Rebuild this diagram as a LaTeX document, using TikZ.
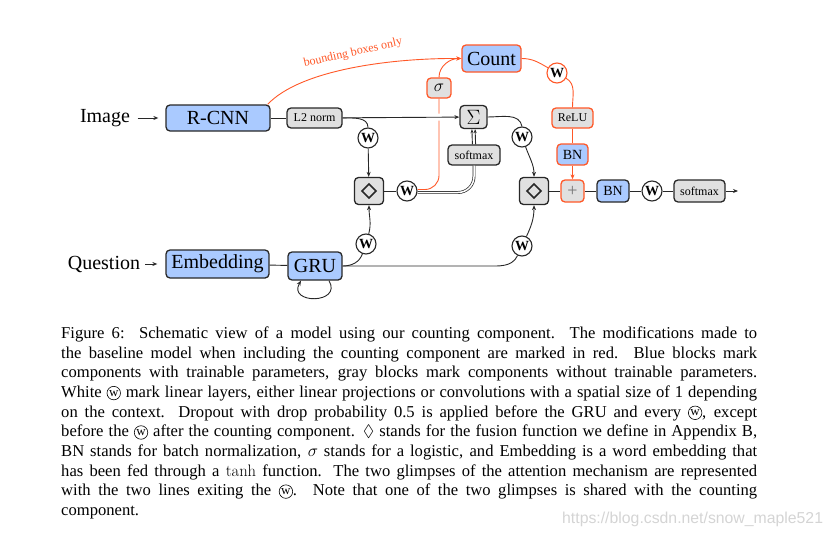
\documentclass[tikz,border=0pt]{standalone}
\usepackage{amsmath,amssymb}
\usepackage{fontspec}
\setmainfont{Liberation Serif}
\newfontfamily\libsans{Liberation Sans}
\newfontfamily\lmroman{Latin Modern Roman}
\usetikzlibrary{arrows.meta}
\definecolor{blueC}{RGB}{170,202,255}
\definecolor{grayC}{RGB}{224,224,224}
\definecolor{redC}{RGB}{255,88,40}
\definecolor{edgeC}{RGB}{40,40,40}
\newcommand{\fsz}[1]{\fontsize{#1}{#1}\selectfont}
\newcommand{\cw}{\tikz[baseline=-4.4pt]{\node[anchor=center, circle, draw=black, line width=0.6pt, inner sep=0pt, minimum size=13.5pt, font=\fontsize{13}{13}\selectfont] at (0,0) {w};}}
\begin{document}
\begin{tikzpicture}[x=1pt,y=1pt,
  box/.style={draw=edgeC, line width=1.3pt, rounded corners=4pt, inner sep=0pt, fill=grayC, text=black},
  bluebox/.style={box, fill=blueC},
  diabox/.style={box, minimum width=29pt, minimum height=27pt,
    path picture={\draw[edgeC, line width=1.5pt, line join=miter, sharp corners]
      (path picture bounding box.center) ++(0,7) -- ++(-7,-7) -- ++(7,-7) -- ++(7,7) -- cycle;}},
  wcirc/.style={circle, draw=edgeC, line width=1.1pt, fill=white, minimum size=20pt, inner sep=0pt, font=\fsz{14}\bfseries},
  conn/.style={draw=edgeC, line width=0.9pt},
  arr/.style={conn, -{Stealth[length=5pt,width=4pt]}},
  redline/.style={draw=redC, line width=0.9pt},
  redarr/.style={redline, -{Stealth[length=5pt,width=4pt]}},
  big/.style={font=\fsz{20}},
  small/.style={font=\fsz{12}},
]
\useasboundingbox (0,0) rectangle (830,-538);

% nodes
\node[big] (img) at (105,-118) {Image};
\node[bluebox, big, minimum width=104pt, minimum height=26pt] (rcnn) at (218,-118) {R-CNN};
\node[box, small, minimum width=55pt, minimum height=20pt] (l2) at (314.5,-118) {L2 norm};
\node[box, font=\fsz{20}, minimum width=27pt, minimum height=23pt] (sum) at (473.5,-117) {$\Sigma$};
\node[box, small, minimum width=52pt, minimum height=20pt] (smA) at (474,-155) {softmax};
\node[box, draw=redC, font=\fsz{17}, minimum width=24pt, minimum height=20pt] (sig) at (439,-88) {$\sigma$};
\node[bluebox, draw=redC, big, minimum width=59pt, minimum height=27pt] (count) at (491.5,-58.5) {Count};
\node[wcirc] (w1) at (368,-138) {W};
\node[diabox] (d1) at (369,-191) {};
\node[wcirc] (w2) at (407,-191) {W};
\node[wcirc] (wS) at (522,-137) {W};
\node[diabox] (d2) at (534,-191) {};
\node[wcirc] (w4) at (522,-246) {W};
\node[wcirc] (w3) at (366,-244) {W};
\node[box, draw=redC, minimum width=23pt, minimum height=22pt, font=\fsz{18}, text=black!55] (plus) at (572.5,-191) {+};
\node[bluebox, font=\fsz{14}, minimum width=32pt, minimum height=22pt] (bnB) at (613,-191) {BN};
\node[wcirc] (w6) at (652,-191) {W};
\node[box, small, minimum width=51pt, minimum height=22pt] (smB) at (699.5,-191) {softmax};
\coordinate (out) at (738,-191);
\node[wcirc, draw=redC] (w5) at (557,-73) {W};
\node[box, draw=redC, small, minimum width=41pt, minimum height=20pt] (relu) at (572.5,-118) {ReLU};
\node[bluebox, draw=redC, font=\fsz{14}, minimum width=31pt, minimum height=21pt] (bnA) at (572.5,-154.5) {BN};
\node[big] (q) at (104,-264) {Question};
\node[bluebox, big, minimum width=103pt, minimum height=28pt] (emb) at (217.5,-264) {Embedding};
\node[bluebox, big, minimum width=54pt, minimum height=28pt] (gru) at (315,-266) {GRU};
\node[rotate=12.8, text=redC, small] (bbl) at (353,-53) {bounding boxes only};

% connectors
\draw[arr, shorten <=4pt, shorten >=7pt] (img) -- (rcnn);
\draw[arr, shorten <=1.5pt, shorten >=8pt] (q) -- (emb);
\draw[conn] (rcnn) -- (l2);
\draw[redarr] ([xshift=-3pt]rcnn.north east) .. controls (300,-70) and (390,-58) .. (count.west);
\draw[redarr] (sig.north) to[out=90,in=180] (count.west);
\draw[redline, rounded corners=14pt] ([yshift=1.5pt]w2.east) -| (sig.south);
\draw[draw=edgeC, line width=0.7pt, double=white, double distance=1.5pt, rounded corners=16pt] ([yshift=-1.5pt]w2.east) -| (smA.south);
\draw[conn, -{Stealth[length=4pt,width=3pt]}] ([xshift=-1.6pt]smA.north) -- ([xshift=-1.6pt]sum.south);
\draw[conn, -{Stealth[length=4pt,width=3pt]}] ([xshift=1.6pt]smA.north) -- ([xshift=1.6pt]sum.south);
\draw[arr, preaction={draw=white, line width=7pt, -, shorten <=85pt, shorten >=15pt}] (l2) -- (sum);
\draw[conn] (l2.east) to[out=0,in=90] (w1.north);
\draw[arr] (w1) -- (d1);
\draw[conn] (sum.east) to[out=0,in=100] (wS.north);
\draw[arr] (wS) to[out=-70,in=90] (d2.north);
\draw[conn] (gru.east) to[out=0,in=-110] (w3);
\draw[arr] (w3) to[out=75,in=-90] (d1.south);
\draw[conn] (gru.east) -- ++(143,0) to[out=0,in=-115] (w4);
\draw[arr] (w4) to[out=65,in=-90] (d2.south);
\draw[conn] (d1) -- (w2);
\draw[conn] (d2) -- (plus);
\draw[conn] (plus) -- (bnB);
\draw[conn] (bnB) -- (w6);
\draw[conn] (w6) -- (smB);
\draw[arr] (smB) -- (out);
\draw[redline] (count.east) to[out=0,in=150] (w5);
\draw[redline] (w5) to[out=-30,in=90] (relu.north);
\draw[redline] (relu) -- (bnA);
\draw[redarr] (bnA) -- (plus);
\draw[conn] (emb) -- (gru);
\draw[arr] ([xshift=14pt]gru.south) to[out=-60,in=-120,looseness=2.5] ([xshift=-14pt]gru.south);

% caption
\node[anchor=north west, inner sep=0pt, align=left, font={\fontsize{16.6}{19.7}\selectfont}] (cap) at (61,-326.5) {%
\makebox[696pt][s]{Figure 6:\ \ Schematic view of a model using our counting component. The modifications made to}\\
\makebox[696pt][s]{the baseline model when including the counting component are marked in red. Blue blocks mark}\\
\makebox[696pt][s]{components with trainable parameters, gray blocks mark components without trainable parameters.}\\
\makebox[696pt][s]{White \cw{} mark linear layers, either linear projections or convolutions with a spatial size of 1 depending}\\
\makebox[696pt][s]{on the context. Dropout with drop probability 0.5 is applied before the GRU and every \cw, except}\\
\makebox[696pt][s]{before the \cw{} after the counting component. $\Diamond$ stands for the fusion function we define in Appendix B,}\\
\makebox[696pt][s]{BN stands for batch normalization, $\sigma$ stands for a logistic, and Embedding is a word embedding that}\\
\makebox[696pt][s]{has been fed through a {\lmroman tanh} function. The two glimpses of the attention mechanism are represented}\\
\makebox[696pt][s]{with the two lines exiting the \cw. Note that one of the two glimpses is shared with the counting}\\
component.};
\node[anchor=base west, inner sep=0pt, text=black!17, font={\libsans\fontsize{15.8}{15.8}\selectfont}] (wm) at (562,-523) {https://blog.csdn.net/snow\_maple521};
\end{tikzpicture}
\end{document}
